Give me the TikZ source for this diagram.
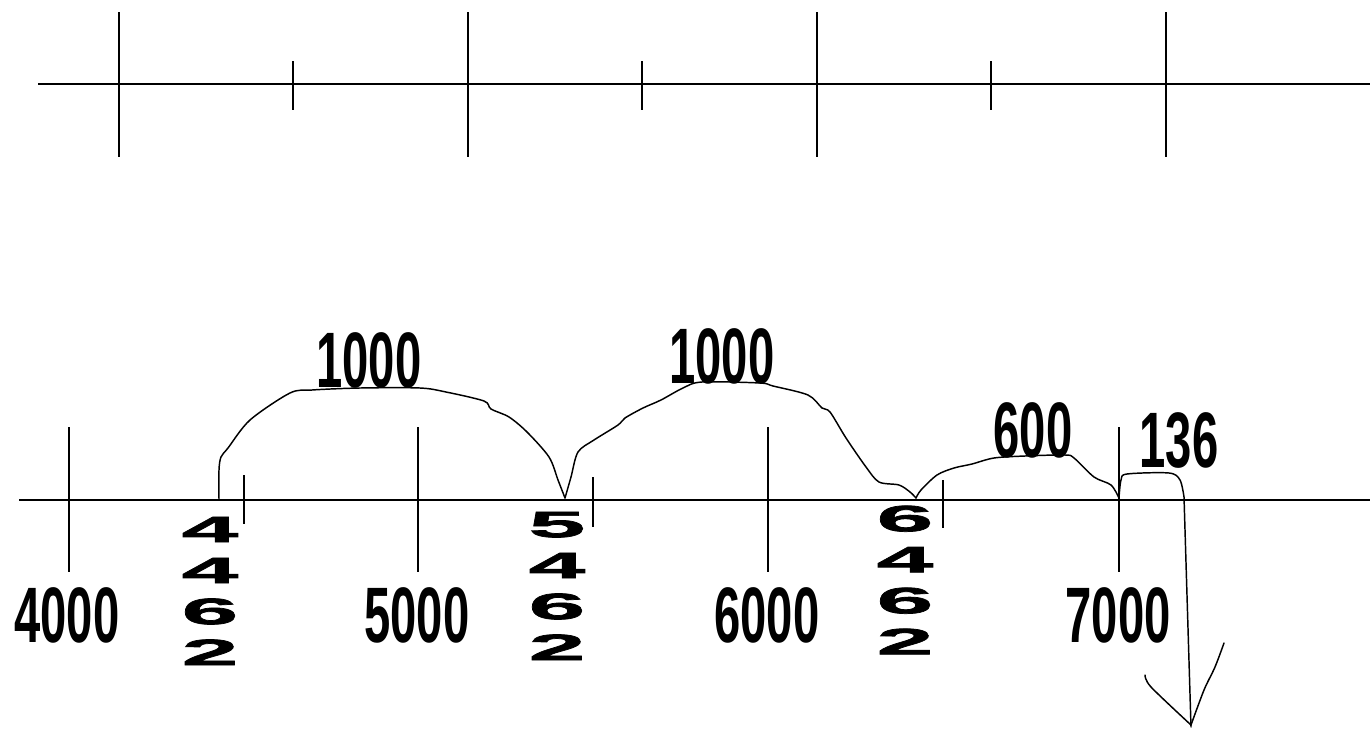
\documentclass[tikz,border=0pt]{standalone}
\usepackage{fontspec}
\newfontfamily\narrowfont[FakeStretch=0.6]{Liberation Sans}
\newfontfamily\widefont[FakeStretch=2.8,BoldFeatures={FakeBold=2}]{Liberation Sans}
\tikzset{
  topline/.style={line width=2.2pt},
  axisline/.style={line width=1.7pt},
  tickline/.style={line width=1.1pt},
  curveline/.style={line width=1.1pt, line join=round, line cap=round},
  axislabel/.style={font=\narrowfont\bfseries\fontsize{59}{60}\selectfont, inner sep=0pt},
  vlabel/.style={font=\widefont\bfseries\fontsize{27.5}{30.75}\selectfont, align=center, inner sep=0pt},
}
\begin{document}
\begin{tikzpicture}[x=0.75pt,y=-0.75pt]
\useasboundingbox (0,0) rectangle (1370,728);
% top ruler
\draw[topline] (38,84) -- (1370,84);
\foreach \x in {119,468,817,1166} \draw[tickline] (\x,12) -- (\x,157);
\foreach \x in {293,642,991} \draw[tickline] (\x,61) -- (\x,110);
% bottom ruler
\draw[axisline] (19,500) -- (1370,500);
\foreach \x in {69,418,768,1119} \draw[tickline] (\x,427) -- (\x,572);
\draw[tickline] (244,475) -- (244,524);
\draw[tickline] (593,477) -- (593,527);
\draw[tickline] (943,480) -- (943,528);
% labels
\node[axislabel] (l4000) at (67,615) {4000};
\node[axislabel] (l5000) at (417,615) {5000};
\node[axislabel] (l6000) at (767,615) {6000};
\node[axislabel] (l7000) at (1118,615) {7000};
\node[axislabel] (s1) at (369,360) {1000};
\node[axislabel] (s2) at (722,356) {1000};
\node[axislabel] (s3) at (1033,430) {600};
\node[axislabel] (s4) at (1179,440) {136};
\node[vlabel] (v1) at (210,591) {4\\4\\6\\2};
\node[vlabel] (v2) at (557,586) {5\\4\\6\\2};
\node[vlabel] (v3) at (905,580) {6\\4\\6\\2};
% curves
\draw[curveline] plot[smooth,tension=0.5] coordinates {(219,500) (219,470) (221,457) (228,448) (250,420) (290,393) (312,390) (360,388) (420,388) (446,392) (484,401) (491,409) (509,417) (527,432) (549,457) (558,480) (565,498)};
\draw[curveline] plot[smooth,tension=0.5] coordinates {(565,498) (571,477) (578,452) (594,440) (618,425) (625,418) (643,408) (661,400) (683,388) (702,382) (760,383) (773,386) (808,395) (822,408) (830,412) (846,438) (866,467) (879,482) (899,485) (910,492) (916,498)};
\draw[curveline] plot[smooth,tension=0.5] coordinates {(916,498) (921,490) (937,475) (954,468) (972,464) (994,458) (1025,456) (1065,455) (1074,458) (1094,477) (1111,485) (1119,498)};
\draw[curveline] plot[smooth,tension=0.5] coordinates {(1119,498) (1121,480) (1127,474) (1169,473) (1180,480) (1184,497)} -- (1191,727);
\draw[curveline] plot[smooth,tension=0.5] coordinates {(1145,675) (1151,687) (1191,725)};
\draw[curveline] plot[smooth,tension=0.5] coordinates {(1224,643) (1215,667) (1204,690) (1191,725)};
\end{tikzpicture}
\end{document}
